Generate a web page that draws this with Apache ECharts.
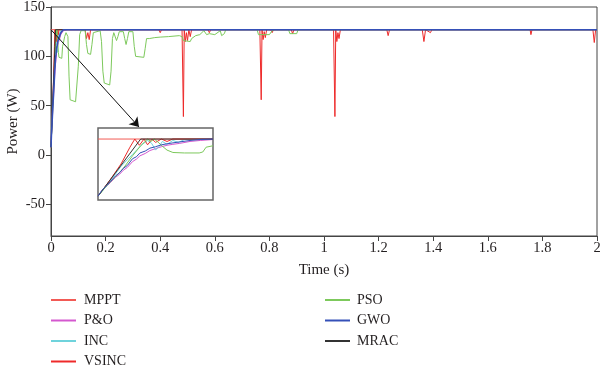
<!DOCTYPE html>
<html>
<head>
<meta charset="utf-8">
<script src="https://cdn.jsdelivr.net/npm/echarts@6/dist/echarts.min.js"></script>
<style>html,body{margin:0;padding:0;background:#fff}#c{width:600px;height:371px}</style>
</head>
<body>
<div id="c"></div>
<script>
// ---- Data ----
var seriesNames = ['MPPT', 'P&O', 'INC', 'VSINC', 'PSO', 'GWO', 'MRAC'];
var xTicks = [0, 0.2, 0.4, 0.6, 0.8, 1, 1.2, 1.4, 1.6, 1.8, 2];
var yTicks = [-50, 0, 50, 100, 150];

// start-up transient (time in ms, power in W) — also shown zoomed in the inset
var startMPPT = [[0,127],[45,127]];
var startPO = [[0,8],[1.5,19],[3.6,30],[5,37],[6.8,47],[8.5,54],[9.9,62],[11.5,68],[13.5,80],[15,85],[16.4,92],[18.5,97],[20.3,103],[22.5,107],[24.8,111],[27,114],[29.3,116],[32,118],[36,122],[40,124],[45,126]];
var startINC = [[0,8],[3.6,31],[9,70],[13.5,95],[17.1,115],[19.4,124],[21,118],[22.5,104],[24,112],[25.2,122],[27,116],[29.3,124],[31.5,120],[33.8,126],[45,127]];
var startVSINC = [[0,8],[4.5,40],[9,75],[12.5,110],[14.4,127],[16.2,114],[18,127],[19.4,115],[21.2,127],[22.5,120],[24.8,127],[27,122],[29.3,127],[45,127]];
var startPSO = [[0,8],[3.6,31],[6.8,48],[9.9,66],[13.5,92],[16.7,113],[19.4,127],[20.7,122],[22,127],[23.4,121],[25.2,112],[27,104],[29.3,99],[33.8,98],[39.6,98],[41,100],[42.3,110],[45,113]];
var startGWO = [[0,8],[1.5,20],[3.6,31],[5,39],[6.8,50],[8.5,57],[9.9,66],[11.5,72],[13.5,86],[15,90],[16.4,98],[18.5,102],[20.3,108],[22.5,111],[24.8,115],[27,117],[29.3,119],[32,121],[36,124],[40,126],[45,127]];
var startMRAC = [[0,8],[16.7,127],[45,127]];

// remainder of the run (time in s, power in W)
var restMPPT = [[2,127]];
var restPO = [[0.06,127],[2,127]];
var restINC = [[0.06,127],[2,127]];
var restVSINC = [[0.125,127],[0.13,118],[0.135,124],[0.14,117],[0.145,127],[0.395,127],[0.4,124],[0.405,127],
  [0.48,127],[0.485,39],[0.488,127],[0.492,115],[0.496,124],[0.5,116],[0.505,127],[0.51,120],[0.515,127],
  [0.575,127],[0.58,124],[0.585,127],
  [0.765,127],[0.77,56],[0.773,127],[0.777,117],[0.781,125],[0.785,119],[0.79,127],
  [0.805,127],[0.81,124],[0.815,127],[0.88,127],[0.885,123],[0.89,127],
  [1.035,127],[1.04,39],[1.043,127],[1.047,115],[1.051,124],[1.055,118],[1.06,127],
  [1.23,127],[1.235,121],[1.24,127],[1.275,127],[1.28,125],[1.285,127],
  [1.36,127],[1.366,115],[1.372,127],[1.39,124],[1.395,127],
  [1.755,127],[1.758,122],[1.762,127],[1.845,127],[1.848,125],[1.852,127],
  [1.9,127],[1.903,125],[1.906,127],[1.985,127],[1.99,114],[1.995,127],[2,127]];
var restPSO = [[0.05,120],[0.055,124],[0.06,125],[0.062,120],[0.066,80],[0.07,56],[0.075,54],[0.09,54],[0.095,56],[0.1,90],[0.105,122],[0.11,126],
  [0.125,126],[0.13,112],[0.135,103],[0.145,102],[0.15,112],[0.155,124],[0.16,126],[0.18,126],[0.185,115],[0.19,85],[0.195,73],[0.215,71],[0.22,85],[0.225,118],[0.23,124],[0.24,116],[0.245,120],[0.25,125],
  [0.265,125],[0.27,118],[0.275,112],[0.28,118],[0.285,125],[0.3,125],[0.305,110],[0.31,100],[0.34,99],[0.345,108],[0.35,118],[0.36,118],[0.38,119],[0.4,119.5],[0.43,120],[0.47,121],
  [0.48,120],[0.485,116],[0.49,115],[0.51,115],[0.515,118],[0.52,119],[0.53,121],[0.545,122],[0.55,123],[0.56,126],[0.57,122],[0.58,123],[0.6,122],[0.62,126],[0.625,121],[0.635,123],[0.64,127],
  [0.755,127],[0.76,122],[0.8,122],[0.81,126],[0.82,127],[0.87,127],[0.875,123],[0.9,123],[0.905,127],[2,127]];
var restGWO = [[0.06,127],[2,127]];
var restMRAC = [[2,127]];

var colors = {'MPPT':'#f25a55','P&O':'#d458cf','INC':'#6fd3dc','VSINC':'#ee2a2a','PSO':'#7dc95c','GWO':'#3550b8','MRAC':'#333333'};

// ---- build ----
function toSec(arr){ return arr.map(function(p){ return [p[0]/1000, p[1]]; }); }
var starts = {'MPPT':startMPPT,'P&O':startPO,'INC':startINC,'VSINC':startVSINC,'PSO':startPSO,'GWO':startGWO,'MRAC':startMRAC};
var rests = {'MPPT':restMPPT,'P&O':restPO,'INC':restINC,'VSINC':restVSINC,'PSO':restPSO,'GWO':restGWO,'MRAC':restMRAC};
var drawOrder = ['MPPT','P&O','INC','VSINC','PSO','MRAC','GWO'];

var font = 'Liberation Serif';
var txt = '#231f20';
var series = [];
drawOrder.forEach(function(n){
  var s = {
    name: n, type: 'line', xAxisIndex: 0, yAxisIndex: 0,
    data: toSec(starts[n]).concat(rests[n]),
    showSymbol: false, symbol: 'none', animation: false,
    lineStyle: { color: colors[n], width: (n==='GWO'?1.6:1) },
    itemStyle: { color: colors[n] }
  };
  if (n === 'MRAC') {
    s.markLine = {
      silent: true, animation: false, symbol: ['none','arrow'], symbolSize: 9,
      label: { show: false },
      lineStyle: { color: '#111', width: 1, type: 'solid' },
      data: [[{ coord: [0, 127] }, { x: 139, y: 127 }]]
    };
  }
  series.push(s);
});
drawOrder.forEach(function(n){
  series.push({
    name: n, type: 'line', xAxisIndex: 1, yAxisIndex: 1,
    data: starts[n], showSymbol: false, symbol: 'none', animation: false, z: 10,
    lineStyle: { color: colors[n], width: 1 }, itemStyle: { color: colors[n] }
  });
});

var chart = echarts.init(document.getElementById('c'), null, { renderer: 'canvas' });
chart.setOption({
  backgroundColor: '#fff',
  animation: false,
  textStyle: { fontFamily: font },
  grid: [
    { left: 51, right: 3, top: 7, bottom: 135, show: true, borderColor: '#444', borderWidth: 1, outerBoundsMode: 'none', containLabel: false },
    { left: 98, top: 128, width: 115, height: 72, show: true, borderColor: '#666', borderWidth: 1.5, backgroundColor: '#fff', outerBoundsMode: 'none', containLabel: false }
  ],
  xAxis: [
    { type: 'value', gridIndex: 0, min: 0, max: 2, interval: 0.2,
      name: 'Time (s)', nameLocation: 'middle', nameGap: 27, nameMoveOverlap: false,
      nameTextStyle: { fontFamily: font, fontSize: 15, color: txt },
      axisLine: { onZero: false, lineStyle: { color: '#444' } },
      axisTick: { inside: false, length: 5, lineStyle: { color: '#444' } },
      axisLabel: { fontFamily: font, fontSize: 14.5, color: txt, margin: 5 },
      splitLine: { show: false } },
    { type: 'value', gridIndex: 1, min: 0, max: 45, show: false, splitLine: { show: false } }
  ],
  yAxis: [
    { type: 'value', gridIndex: 0, min: -82, max: 150,
      name: 'Power (W)', nameLocation: 'middle', nameGap: 30, nameMoveOverlap: false,
      nameTextStyle: { fontFamily: font, fontSize: 15, color: txt },
      axisLine: { onZero: false, lineStyle: { color: '#444' } },
      axisTick: { length: 5, customValues: yTicks, lineStyle: { color: '#444' } },
      axisLabel: { fontFamily: font, fontSize: 14.5, color: txt, margin: 6, customValues: yTicks },
      splitLine: { show: false } },
    { type: 'value', gridIndex: 1, min: 0, max: 150, show: false, splitLine: { show: false } }
  ],
  legend: [
    { data: ['MPPT','P&O','INC','VSINC'], left: 51, top: 293, orient: 'vertical', padding: 0,
      itemWidth: 25, itemHeight: 2, icon: 'rect', itemGap: 6.5,
      textStyle: { fontFamily: font, fontSize: 14, color: txt, lineHeight: 14, padding: [0,0,0,3] } },
    { data: ['PSO','GWO','MRAC'], left: 325, top: 293, orient: 'vertical', padding: 0,
      itemWidth: 25, itemHeight: 2, icon: 'rect', itemGap: 6.5,
      textStyle: { fontFamily: font, fontSize: 14, color: txt, lineHeight: 14, padding: [0,0,0,2] } }
  ],
  series: series
});
</script>
</body>
</html>
